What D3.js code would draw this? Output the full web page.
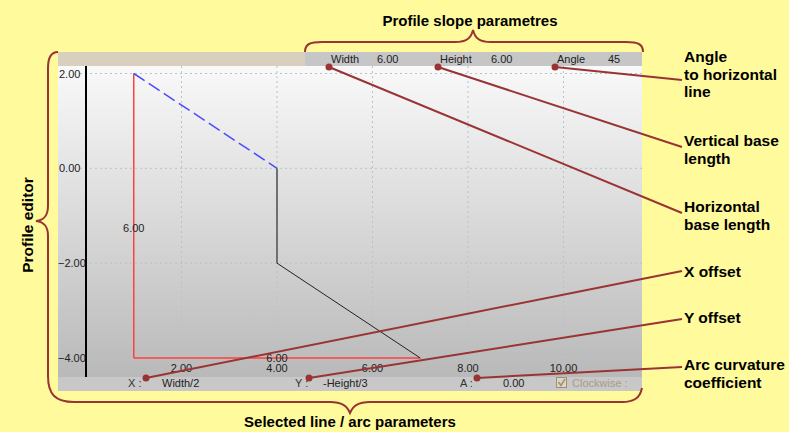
<!DOCTYPE html>
<html><head><meta charset="utf-8">
<script src="https://cdn.jsdelivr.net/npm/d3@7"></script>
<style>
html,body{margin:0;padding:0;background:#fffa9c;}
svg{display:block;}
text{font-family:"Liberation Sans",Arial,sans-serif;}
</style></head>
<body>
<svg id="c" width="789" height="432"></svg>
<script>
// ---- data ----
const xTicks = [2, 4, 6, 8, 10];
const yTicks = [2, 0, -2, -4];
const tickFormat = d3.format(".2f");
const dashedSegment = [[1, 2], [4, 0]];      // blue dashed slope
const verticalSegment = [[4, 0], [4, -2]];   // grey vertical
const diagonalSegment = [[4, -2], [7, -4]];  // black diagonal
const baseVertical = [[1, 2], [1, -4]];      // red vertical base
const baseHorizontal = [[1, -4], [7, -4]];   // red horizontal base
const widthValue = 6.00, heightValue = 6.00, angleValue = 45;
const topParams = [["Width", tickFormat(widthValue)], ["Height", tickFormat(heightValue)], ["Angle", String(angleValue)]];
const bottomParams = [["X :", "Width/2"], ["Y :", "-Height/3"], ["A :", "0.00"]];
const rightLabels = [
  ["Angle", "to horizontal", "line"],
  ["Vertical base", "length"],
  ["Horizontal", "base length"],
  ["X offset"],
  ["Y offset"],
  ["Arc curvature", "coefficient"]
];

// ---- layout ----
const svg = d3.select("#c");
const P = {l: 58, r: 642, t: 52, barH: 14, pb: 377, b: 391};
const x = d3.scaleLinear().domain([0, 12]).range([86, 86 + 12 * 47.75]);
const y = d3.scaleLinear().domain([-4, 2]).range([358, 73.5]);
const accent = "#9a3434";

const defs = svg.append("defs");
const g = defs.append("linearGradient").attr("id", "bg").attr("x1", 0).attr("x2", 0).attr("y1", 0).attr("y2", 1);
g.append("stop").attr("offset", "0%").attr("stop-color", "#f9f9f9");
g.append("stop").attr("offset", "100%").attr("stop-color", "#b9b9b9");

// panel
svg.append("rect").attr("x", P.l).attr("y", P.t + P.barH).attr("width", P.r - P.l).attr("height", P.pb - P.t - P.barH).attr("fill", "url(#bg)");
svg.append("rect").attr("x", P.l).attr("y", P.t).attr("width", 305 - P.l).attr("height", P.barH).attr("fill", "#d8cfbf");
svg.append("rect").attr("x", 305).attr("y", P.t).attr("width", P.r - 305).attr("height", P.barH).attr("fill", "#c6c6c6");
svg.append("rect").attr("x", P.l).attr("y", P.pb).attr("width", P.r - P.l).attr("height", P.b - P.pb).attr("fill", "#c8c8c8");

// grid
const gridCol = "#b4c3cf";
svg.append("g").selectAll("line").data(yTicks).join("line")
  .attr("x1", 80).attr("x2", P.r).attr("y1", d => y(d)).attr("y2", d => y(d))
  .attr("stroke", gridCol).attr("stroke-dasharray", "2,3");
svg.append("g").selectAll("line").data(xTicks).join("line")
  .attr("x1", d => x(d)).attr("x2", d => x(d)).attr("y1", P.t + P.barH).attr("y2", P.pb)
  .attr("stroke", gridCol).attr("stroke-dasharray", "2,3");

// y tick labels
svg.append("g").selectAll("text").data(yTicks).join("text")
  .attr("x", d => d < 0 ? 58 : 59).attr("y", d => y(d) + 4).attr("font-size", 11).attr("fill", "#222")
  .text(d => tickFormat(d));
// x tick labels
svg.append("g").selectAll("text").data(xTicks).join("text")
  .attr("x", d => x(d)).attr("y", 371.5).attr("text-anchor", "middle").attr("font-size", 11).attr("fill", "#222")
  .text(d => tickFormat(d));

// y axis line
svg.append("line").attr("x1", x(0)).attr("x2", x(0)).attr("y1", P.t + P.barH).attr("y2", P.pb).attr("stroke", "#000").attr("stroke-width", 2);

const line = d3.line().x(d => x(d[0])).y(d => y(d[1]));
svg.append("path").attr("d", line(baseVertical)).attr("stroke", "#ff4040").attr("stroke-width", 1.5).attr("fill", "none");
svg.append("path").attr("d", line(baseHorizontal)).attr("stroke", "#ff4040").attr("stroke-width", 1.5).attr("fill", "none");
svg.append("path").attr("d", line(dashedSegment)).attr("stroke", "#4a4aff").attr("stroke-width", 1.5).attr("stroke-dasharray", "13,5").attr("fill", "none");
svg.append("path").attr("d", line(verticalSegment)).attr("stroke", "#707070").attr("stroke-width", 2).attr("fill", "none");
svg.append("path").attr("d", line(diagonalSegment)).attr("stroke", "#222").attr("stroke-width", 1).attr("fill", "none");

// dimension labels
svg.append("text").attr("x", x(baseVertical[0][0])).attr("y", 231.5).attr("text-anchor", "middle").attr("font-size", 11).attr("fill", "#222")
  .text(tickFormat(Math.abs(baseVertical[0][1] - baseVertical[1][1])));
svg.append("text").attr("x", x((baseHorizontal[0][0] + baseHorizontal[1][0]) / 2)).attr("y", 361.5).attr("text-anchor", "middle").attr("font-size", 11).attr("fill", "#222")
  .text(tickFormat(baseHorizontal[1][0] - baseHorizontal[0][0]));

// top bar params
const topPos = [[331, 377], [440, 491], [557, 608]];
topParams.forEach((p, i) => {
  svg.append("text").attr("x", topPos[i][0]).attr("y", 63).attr("font-size", 11).attr("fill", "#222").text(p[0]);
  svg.append("text").attr("x", topPos[i][1]).attr("y", 63).attr("font-size", 11).attr("fill", "#222").text(p[1]);
});
// bottom bar params
const botPos = [[128, 162], [295, 323], [460, 503]];
bottomParams.forEach((p, i) => {
  svg.append("text").attr("x", botPos[i][0]).attr("y", 387).attr("font-size", 11).attr("fill", "#333").text(p[0]);
  svg.append("text").attr("x", botPos[i][1]).attr("y", 387).attr("font-size", 11).attr("fill", "#222").text(p[1]);
});
// checkbox
svg.append("rect").attr("x", 556.5).attr("y", 377.5).attr("width", 10).attr("height", 10).attr("fill", "#ddd6c8").attr("stroke", "#9c9070");
svg.append("path").attr("d", "M558.5,382 L561,385.5 L565,379").attr("stroke", "#a09478").attr("stroke-width", 1.6).attr("fill", "none");
svg.append("text").attr("x", 572).attr("y", 387).attr("font-size", 11).attr("fill", "#a89c86").text("Clockwise :");

// braces
const braceAttrs = s => s.attr("fill", "none").attr("stroke", accent).attr("stroke-width", 2);
svg.append("path").attr("d", "M305,52 C305,44 310,42 322,42 L455,42 C467,42 471,38 473,30 C475,38 479,42 491,42 L626,42 C638,42 643,44 643,52").call(braceAttrs);
svg.append("path").attr("d", "M58,52 C51,52 48,57 48,68 L48,206 C48,216 44,220 36,221 C44,222 48,226 48,236 L48,376 C48,394 55,402 74,402").call(braceAttrs);
svg.append("path").attr("d", "M74,402 L330,402 C342,402 347,406 350,413 C353,406 358,402 370,402 L622,402 C634,402 640,398 642,388").call(braceAttrs);

// titles
svg.append("text").attr("x", 470).attr("y", 26).attr("text-anchor", "middle").attr("font-size", 15).attr("font-weight", "bold").attr("fill", "#000").text("Profile slope parametres");
svg.append("text").attr("x", 350).attr("y", 427).attr("text-anchor", "middle").attr("font-size", 15).attr("font-weight", "bold").attr("fill", "#000").text("Selected line / arc parameters");
svg.append("text").attr("transform", "translate(33,225) rotate(-90)").attr("text-anchor", "middle").attr("font-size", 15.5).attr("font-weight", "bold").attr("fill", "#000").text("Profile editor");

// right labels
const labelY = [62, 146, 212, 277, 323, 370];
rightLabels.forEach((lines, i) => {
  lines.forEach((t, j) => {
    svg.append("text").attr("x", 684).attr("y", labelY[i] + j * 17.5).attr("font-size", 15.5).attr("font-weight", "bold").attr("fill", "#000").text(t);
  });
});

// callouts
const callouts = [
  [[555, 67], [682, 80]],
  [[438, 67], [682, 147]],
  [[329, 67], [682, 213]],
  [[146, 378], [682, 271]],
  [[309, 378], [682, 319]],
  [[477, 378], [682, 367]]
];
callouts.forEach(c => {
  svg.append("line").attr("x1", c[0][0]).attr("y1", c[0][1]).attr("x2", c[1][0]).attr("y2", c[1][1]).attr("stroke", accent).attr("stroke-width", 2);
  svg.append("circle").attr("cx", c[0][0]).attr("cy", c[0][1]).attr("r", 3.5).attr("fill", accent);
});
</script>
</body></html>
